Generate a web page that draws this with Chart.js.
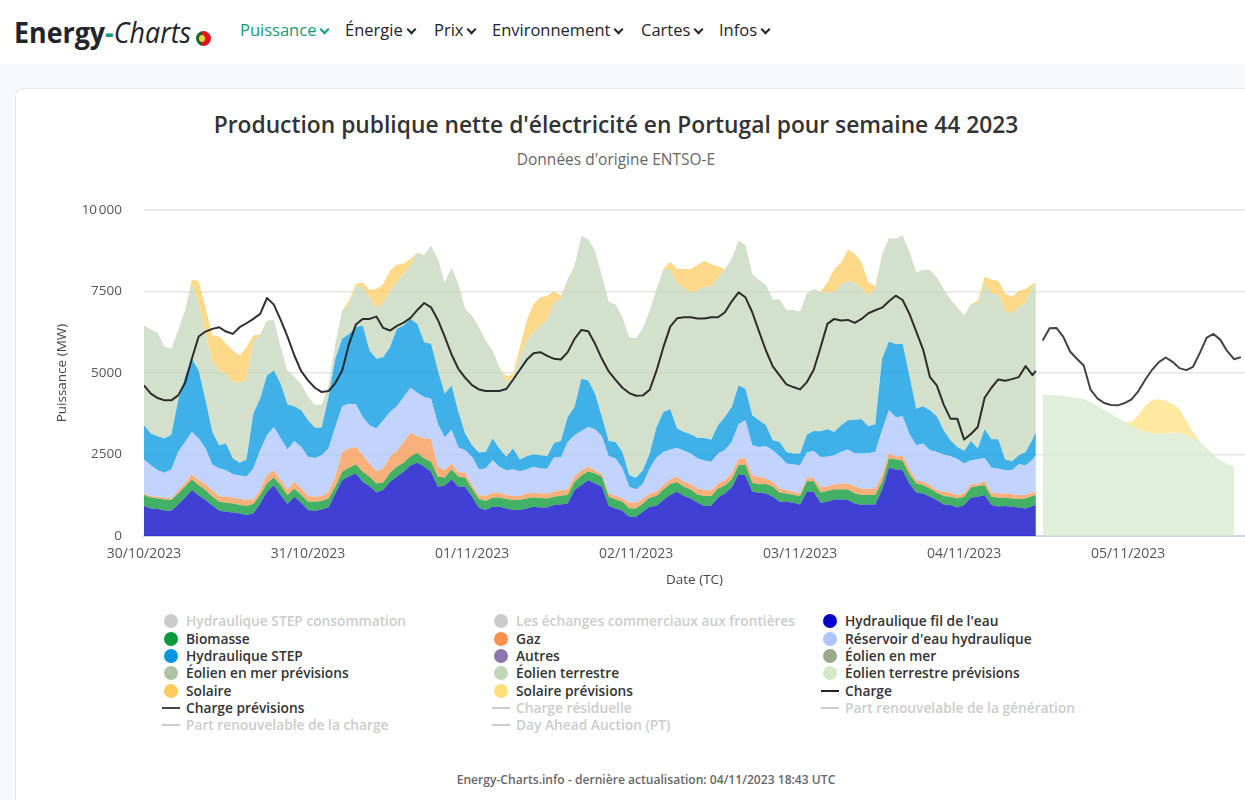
<!DOCTYPE html>
<html lang="fr">
<head>
<meta charset="utf-8">
<title>Energy-Charts</title>
<script src="https://cdn.jsdelivr.net/npm/chart.js@4"></script>
<style>
html,body{margin:0;padding:0;background:#f8f9fa;overflow:hidden;width:1245px;height:800px;font-family:"Open Sans",sans-serif;color:#212529}
#nav{position:absolute;left:0;top:0;width:1245px;height:64px;background:#fff}
#logo{position:absolute;left:14px;top:13px;font-size:29px;line-height:38px;white-space:nowrap;transform:scaleX(.925);transform-origin:left center;color:#212529}
#logo b{font-weight:700}#logo b span{color:#0f9d7a}#logo i{font-weight:400}
#flag{position:absolute;left:196px;top:31px;width:15px;height:15px;border-radius:50%;background:linear-gradient(90deg,#0a6b2d 0 38%,#e0141c 38% 100%)}
#flag:after{content:"";position:absolute;left:3px;top:4px;width:6px;height:7px;border-radius:50%;background:#f3d13b}
.nv{position:absolute;top:18px;font-size:16.5px;line-height:24px;white-space:nowrap;color:#212529}
.nv:after{content:"";display:inline-block;width:5px;height:5px;border-right:2px solid currentColor;border-bottom:2px solid currentColor;transform:rotate(45deg);margin:0 2px 3px 5px}
#card{position:absolute;left:15px;top:88px;width:1300px;height:760px;background:#fff;border:1px solid #e6e6e6;border-radius:8px}
#ttl{position:absolute;left:116px;width:1000px;top:108px;text-align:center;font-size:22.8px;line-height:34px;font-weight:600;color:#333;white-space:nowrap}
#sub{position:absolute;left:116px;width:1000px;top:148px;text-align:center;font-size:15.5px;line-height:22px;color:#666}
#cv{position:absolute;left:16px;top:180px}
.lg{position:absolute;font-size:13.75px;line-height:18px;font-weight:600;color:#333;white-space:nowrap}
.lg.off{color:#ccc}
.dot{position:absolute;width:14px;height:14px;border-radius:50%}
.ln{position:absolute;width:18px;height:2px}
#foot{position:absolute;left:346px;width:600px;top:771px;text-align:center;font-size:12.1px;line-height:18px;font-weight:600;color:#666;white-space:nowrap}
</style>
</head>
<body>
<div id="nav">
  <div id="logo"><b>Energy<span>-</span></b><i>Charts</i></div><div id="flag"></div>
  <span class="nv" style="left:240px;color:#0f9d7a">Puissance</span>
  <span class="nv" style="left:345px">Énergie</span>
  <span class="nv" style="left:434px">Prix</span>
  <span class="nv" style="left:492px">Environnement</span>
  <span class="nv" style="left:641px">Cartes</span>
  <span class="nv" style="left:719px">Infos</span>
</div>
<div id="card"></div>
<div id="ttl">Production publique nette d'électricité en Portugal pour semaine 44 2023</div>
<div id="sub">Données d'origine ENTSO-E</div>
<canvas id="cv" width="1229" height="408"></canvas>
<div id="legend"></div>
<div id="foot">Energy-Charts.info - dernière actualisation: 04/11/2023 18:43 UTC</div>
<script>
// Hours since 30/10/2023 00:00 UTC
const actualHours = [...Array(131).keys(), 130.5];
const forecastHours = Array.from({length:30},(_, n)=>131.5+n);
const dateTicks = ['30/10/2023','31/10/2023','01/11/2023','02/11/2023','03/11/2023','04/11/2023','05/11/2023'];
const yTicks = [0,2500,5000,7500,10000];

const hydroRun = [
918,847,826,785,775,969,1173,1408,1244,1102,
938,775,745,724,694,643,694,1000,1357,1561,
1255,979,1204,1020,796,765,816,877,1306,1714,
1836,1918,1663,1530,1336,1408,1663,1816,1969,2173,
2244,2122,1969,1510,1540,1734,1510,1510,1204,867,
796,898,898,847,796,796,847,898,877,877,
949,969,1000,1408,
1561,1714,1612,1510,918,847,775,592,592,745,
898,928,1102,1255,1357,1224,1153,1020,918,928,
1183,1306,1489,1897,1867,1357,1326,1306,1204,1051,
1051,1020,969,1357,1357,1020,1051,1122,1122,1102,
1000,949,969,969,1408,2091,2040,2020,1612,1326,
1306,1204,1102,969,949,877,949,1173,1204,1255,
949,908,918,898,877,847,918,949];
const biomass = [
337,337,326,337,326,337,337,326,316,306,
265,275,275,275,255,275,286,255,255,235,
306,275,255,235,255,286,255,275,204,255,
255,275,306,286,275,235,275,306,275,275,
306,255,306,306,255,306,306,275,255,265,
275,275,275,286,306,306,306,286,286,275,
255,265,255,255,
296,265,306,306,286,275,275,255,255,255,
275,296,326,337,296,286,275,245,306,296,
275,245,245,275,326,275,265,286,306,275,
255,235,255,326,326,316,326,306,306,326,
306,306,286,286,255,286,306,286,286,286,
255,255,224,255,255,275,255,316,326,306,
255,265,255,255,255,306,306,306];
const gas = [
31,41,51,51,51,82,102,153,153,184,
204,173,184,184,194,184,143,153,255,224,
153,173,204,204,173,153,153,204,306,612,
592,541,510,408,377,428,490,490,643,724,
510,612,704,306,224,184,133,163,102,122,
153,153,153,122,122,122,153,143,143,153,
153,173,173,173,
143,143,102,82,102,102,102,173,173,133,
133,133,133,143,163,153,163,184,184,173,
153,163,184,204,184,235,224,173,153,133,
102,102,82,102,102,153,153,163,173,184,
224,194,194,194,204,153,92,153,153,102,
102,102,82,133,133,102,102,102,61,122,
122,133,133,133,122,102,112,122];
const reservoir = [
1061,949,816,765,887,1193,1275,1306,1275,1091,
785,847,816,714,714,714,949,1224,1224,1326,
1275,1224,1255,1275,1204,1193,1255,1326,1530,1397,
1377,1306,1173,1173,1306,1479,1377,1367,1377,1377,
1326,1275,1234,1326,1000,1040,765,683,867,785,
847,1000,796,765,816,765,734,796,765,755,
1051,1000,1459,1255,
1224,1224,1255,1163,1142,1153,918,490,408,459,
765,1051,1020,918,887,949,938,928,908,877,
918,918,969,1051,1173,918,918,989,969,989,
816,836,867,775,826,938,898,887,979,1040,
1000,1081,1091,1132,1377,1326,1204,1214,1071,1071,
1173,1071,1173,1142,1112,1112,918,734,765,714,
765,755,714,734,949,918,1000,1102];
const pumped = [
1051,969,1040,1051,1071,1581,1989,2244,2091,1479,
1000,714,816,479,388,530,1683,1581,1836,1734,
1683,1387,1061,1122,1122,928,847,1581,2091,2071,
2142,2366,2805,2295,2142,1938,1989,2377,2193,2111,
2122,1683,1683,1632,1346,1357,1091,510,357,520,
510,663,561,408,643,357,408,377,408,388,
449,510,765,867,
1601,1428,1091,592,469,510,510,357,357,428,
459,938,1224,1234,592,581,592,632,694,683,
867,1020,1071,1193,969,918,816,643,306,439,
357,337,357,551,612,785,847,714,816,898,
1040,1051,826,847,2193,2111,2244,2224,1785,1122,
1142,1224,1091,745,490,367,388,592,326,877,
877,908,326,275,275,408,622,714];
const windOnshore = [
3060,3193,3172,2825,2632,2142,2040,2295,2091,2040,
2193,2295,2142,2346,2448,2479,2244,1989,1683,1550,
1122,1040,898,816,714,704,704,357,459,867,
887,1244,1193,1632,1561,1683,1734,1428,1581,1632,
2193,2672,3009,3417,3417,3621,3927,3825,3978,3845,
3417,2703,2499,2295,2193,3142,3550,3754,3978,4162,
4315,4355,4233,4335,
4386,4335,4386,4335,4274,4213,4131,4233,4284,4366,
4386,4233,4386,4304,4457,4406,4355,4539,4641,4702,
4539,4539,4539,4437,4417,4335,4304,4304,4315,4366,
4355,4406,4355,4335,4355,4264,4202,4294,4335,4284,
4192,4029,4009,4151,3213,3172,3233,3335,3825,4182,
4192,4304,4264,4335,4315,4284,4151,4202,4437,4457,
4457,4457,4570,4519,4539,4559,4692,4590];
const solar = [
0,0,0,0,0,0,0,122,663,816,
765,1051,918,969,847,969,153,0,0,0,
0,0,0,0,0,0,0,0,0,0,
133,82,133,235,581,561,612,541,326,204,
0,0,0,0,0,0,0,0,0,0,
0,0,0,173,102,306,612,867,867,765,
337,102,0,0,0,0,0,0,0,0,
0,0,0,0,0,0,0,235,439,592,
714,775,796,683,337,0,0,0,0,0,
0,0,0,0,0,0,0,0,0,20,
306,704,663,949,908,785,408,102,0,0,
0,0,0,0,0,0,0,0,0,0,
0,0,102,224,439,408,530,530,510,439,
82,0];
const load = [
4621,4366,4233,4162,4162,4315,4692,5437,6120,6273,
6355,6406,6273,6202,6406,6528,6661,6814,7303,7099,
6630,6120,5539,5059,4774,4549,4417,4447,4692,5080,
5896,6487,6661,6661,6732,6385,6304,6446,6548,6691,
6936,7150,7018,6630,6120,5569,5131,4855,4631,4498,
4447,4447,4447,4508,4794,5100,5406,5610,5641,5528,
5437,5416,5641,6049,6324,
6283,5896,5437,5049,4794,4549,4386,4304,4315,4488,
5080,5794,6426,6681,6712,6712,6671,6671,6712,6712,
6865,7201,7477,7324,6865,6273,5692,5202,4927,4651,
4570,4498,4723,5100,5794,6508,6661,6610,6630,6538,
6661,6834,6926,7007,7201,7375,7242,6814,6273,5722,
4876,4621,4039,3601,3601,2958,3131,3346,4243,4549,
4804,4763,4814,4876,5212,4937,5069];
const loadForecast = [5998,6375,6385,6120,5661,5437,5233,4488,4223,4080,
4019,4009,4080,4192,4447,4794,5100,5335,5477,5345,
5151,5090,5192,5620,6089,6202,6018,5671,5426,5488];
const windForecast = [4335,4325,4315,4294,4264,4233,4202,4100,3998,3866,
3743,3631,3509,3386,3274,3182,3142,3142,3152,3172,
3162,3101,2999,2897,2683,2479,2315,2213,2142];
const solarForecast = [0,0,0,0,0,0,0,0,0,0,
0,0,0,102,428,826,1020,1051,1000,887,
734,428,173,0,0,0,0,0,0];

const legendItems = [
 ['Hydraulique STEP consommation','dot','#cccccc',1],['Les échanges commerciaux aux frontières','dot','#cccccc',1],['Hydraulique fil de l\'eau','dot','#0000cc',0],
 ['Biomasse','dot','#0a9a3b',0],['Gaz','dot','#fb914a',0],['Réservoir d\'eau hydraulique','dot','#adc6ff',0],
 ['Hydraulique STEP','dot','#0096e0',0],['Autres','dot','#8f75ad',0],['Éolien en mer','dot','#97ab8d',0],
 ['Éolien en mer prévisions','dot','#adc2a3',0],['Éolien terrestre','dot','#c0d6b6',0],['Éolien terrestre prévisions','dot','#d4e9c9',0],
 ['Solaire','dot','#ffc95e',0],['Solaire prévisions','dot','#ffdf7a',0],['Charge','line','#222222',0],
 ['Charge prévisions','line','#444444',0],['Charge résiduelle','line','#cccccc',1],['Part renouvelable de la génération','line','#cccccc',1],
 ['Part renouvelable de la charge','line','#cccccc',1],['Day Ahead Auction (PT)','line','#cccccc',1]
];
const legendColumnX = [162,492,821];
const legendRowY = [621,638.5,656,673,690.5,708,725];
const host = document.getElementById('legend');
legendItems.forEach((it,k)=>{
  const col=k%3,row=Math.floor(k/3),x=legendColumnX[col],y=legendRowY[row];
  const mark=document.createElement('div');
  if(it[1]==='dot'){mark.className='dot';mark.style.left=(x+2)+'px';mark.style.top=(y-7)+'px';}
  else{mark.className='ln';mark.style.left=x+'px';mark.style.top=(y-1)+'px';}
  mark.style.background=it[2];host.appendChild(mark);
  const t=document.createElement('div');t.className='lg'+(it[3]?' off':'');t.textContent=it[0];
  t.style.left=(x+24)+'px';t.style.top=(y-9)+'px';host.appendChild(t);
});

const pts=(xs,ys)=>ys.map((y,i)=>({x:xs[i],y}));
const area=(label,xs,ys,color,fill)=>({label,data:pts(xs,ys),backgroundColor:color,borderWidth:0,borderColor:'transparent',fill,pointRadius:0,tension:0,stack:'prod'});
const curve=(label,xs,ys,color)=>({label,data:pts(xs,ys),borderColor:color,borderWidth:2,backgroundColor:'transparent',fill:false,pointRadius:0,tension:0,stack:'load',order:-1});

new Chart(document.getElementById('cv'),{
  type:'line',
  data:{datasets:[
    area("Hydraulique fil de l'eau",actualHours,hydroRun,'rgba(0,0,198,.75)','origin'),
    area('Biomasse',actualHours,biomass,'rgba(3,150,50,.75)','-1'),
    area('Gaz',actualHours,gas,'rgba(247,150,78,.75)','-1'),
    area("Réservoir d'eau hydraulique",actualHours,reservoir,'rgba(173,197,252,.75)','-1'),
    area('Hydraulique STEP',actualHours,pumped,'rgba(0,150,224,.75)','-1'),
    area('Éolien terrestre',actualHours,windOnshore,'rgba(196,215,187,.75)','-1'),
    area('Solaire',actualHours,solar,'rgba(253,204,99,.75)','-1'),
    area('Éolien terrestre prévisions',forecastHours,windForecast,'rgba(213,233,206,.75)','origin'),
    area('Solaire prévisions',forecastHours,solarForecast,'rgba(255,225,130,.75)','-1'),
    curve('Charge',actualHours,load,'rgba(25,25,25,.9)'),
    curve('Charge prévisions',forecastHours,loadForecast,'rgba(45,45,45,.9)')
  ]},
  options:{
    responsive:false,animation:false,
    layout:{padding:{left:36,right:0,top:0,bottom:0}},
    plugins:{legend:{display:false},title:{display:false},tooltip:{enabled:false}},
    elements:{line:{borderJoinStyle:'round'}},
    scales:{
      x:{type:'linear',min:0,max:161.1,
        afterFit(s){s.height=52;},
        grid:{display:false,drawTicks:false},
        border:{color:'#ccd6eb',width:2},
        afterBuildTicks(s){s.ticks=dateTicks.map((_,i)=>({value:i*24}));},
        ticks:{padding:10,maxRotation:0,autoSkip:false,color:'#555',font:{family:'"Open Sans"',size:14},callback:(v)=>dateTicks[v/24]},
        title:{display:true,text:'Date (TC)',color:'#444',font:{family:'"Open Sans"',size:13.5},padding:{top:6,bottom:0}}},
      y:{stacked:true,min:0,max:10000,
        afterFit(s){s.width=92;},
        afterBuildTicks(s){s.ticks=yTicks.map(v=>({value:v}));},
        grid:{color:'#e6e6e6',lineWidth:1.5,drawTicks:false},
        border:{display:false},
        ticks:{padding:22,color:'#555',font:{family:'"Open Sans"',size:13.5},callback:(v)=>v>=10000?'10\u202f000':String(v)},
        title:{display:true,text:'Puissance (MW)',color:'#444',font:{family:'"Open Sans"',size:13.5},padding:{top:2,bottom:4}}}
    }
  }
});
</script>
</body>
</html>
